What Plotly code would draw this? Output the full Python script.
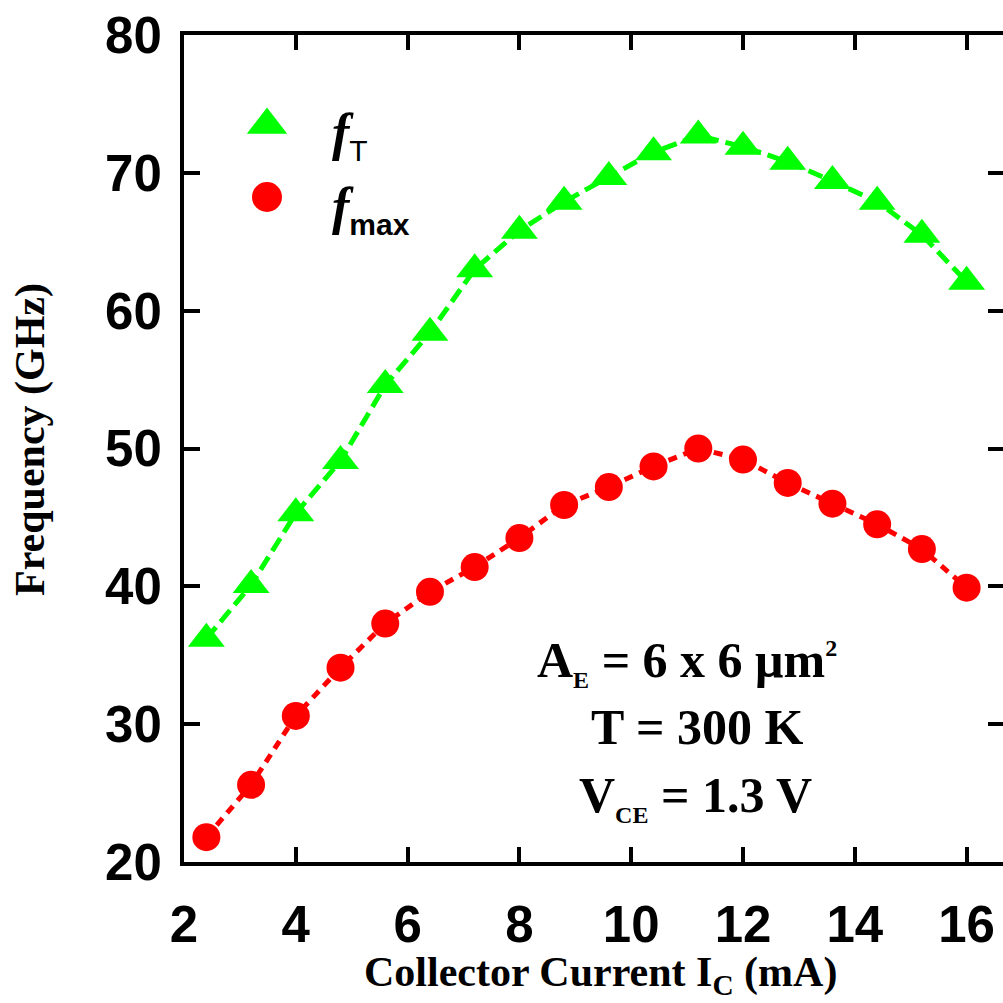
import plotly.graph_objects as go

# ---- data ----
current_mA = [2.4, 3.2, 4.0, 4.8, 5.6, 6.4, 7.2, 8.0, 8.8, 9.6, 10.4, 11.2,
              12.0, 12.8, 13.6, 14.4, 15.2, 16.0]
fT_GHz = [36.2, 40.1, 45.3, 49.1, 54.6, 58.4, 63.0, 65.8, 67.9, 69.7, 71.5, 72.7,
          71.9, 70.8, 69.4, 67.9, 65.5, 62.1]
fmax_GHz = [21.8, 25.6, 30.6, 34.1, 37.3, 39.6, 41.4, 43.5, 45.9, 47.2, 48.7, 50.0,
            49.2, 47.5, 46.0, 44.5, 42.7, 39.9]
x_ticks = [2, 4, 6, 8, 10, 12, 14, 16]
y_ticks = [20, 30, 40, 50, 60, 70, 80]
legend_labels = ["fT", "fmax"]

# ---- layout constants ----
W = H = 1003
L, R, T, B = 184, 0, 35, 141
PW, PH = W - L - R, H - T - B
GREEN = "#00FF00"
RED = "#FF0000"
SANS = "Liberation Sans"
SERIF = "Liberation Serif"

def px_x(px):
    return (px - L) / PW

def px_y(py):
    return (H - B - py) / PH

fig = go.Figure()

fig.add_trace(go.Scatter(
    x=current_mA, y=fT_GHz, mode="lines+markers", name=legend_labels[0],
    line=dict(color=GREEN, width=5, dash="15px,7px"),
    marker=dict(symbol="triangle-up", size=32, color=GREEN),
    showlegend=False, hoverinfo="skip"))
fig.add_trace(go.Scatter(
    x=current_mA, y=fmax_GHz, mode="lines+markers", name=legend_labels[1],
    line=dict(color=RED, width=5, dash="9px,7px"),
    marker=dict(symbol="circle", size=28, color=RED),
    showlegend=False, hoverinfo="skip"))

# dummy trace to carry the right-hand tick axis
fig.add_trace(go.Scatter(x=[None], y=[None], xaxis="x", yaxis="y2",
                         showlegend=False, hoverinfo="skip"))

# hand-built legend keys on an overlay (0..1) axis pair
fig.add_trace(go.Scatter(x=[px_x(267)], y=[px_y(125)], xaxis="x3", yaxis="y3",
                         mode="markers", showlegend=False, hoverinfo="skip",
                         marker=dict(symbol="triangle-up", size=35, color=GREEN)))
fig.add_trace(go.Scatter(x=[px_x(267)], y=[px_y(197)], xaxis="x3", yaxis="y3",
                         mode="markers", showlegend=False, hoverinfo="skip",
                         marker=dict(symbol="circle", size=30, color=RED)))

tickfont = dict(family=SANS, size=51, color="black", weight="bold")

fig.update_layout(
    width=W, height=H,
    margin=dict(l=L, r=R, t=T, b=B, pad=0),
    paper_bgcolor="white", plot_bgcolor="white",
    showlegend=False,
    xaxis=dict(range=[2, 2 + PW / 55.9], tickvals=x_ticks, ticktext=[str(v) for v in x_ticks],
               showgrid=False, zeroline=False, showline=True, linecolor="black", linewidth=4,
               mirror="ticks", ticks="inside", ticklen=15, tickwidth=4, tickcolor="black",
               tickfont=tickfont, ticklabelstandoff=15),
    yaxis=dict(range=[20, 80], tickvals=y_ticks, ticktext=[str(v) for v in y_ticks],
               showgrid=False, zeroline=False, showline=True, linecolor="black", linewidth=4,
               mirror=False, ticks="inside", ticklen=16, tickwidth=4, tickcolor="black",
               tickfont=tickfont, ticklabelstandoff=8),
    yaxis2=dict(range=[20, 80], tickvals=y_ticks, overlaying="y", side="right",
                anchor="free", position=1, showgrid=False, zeroline=False, showline=False,
                ticks="inside", ticklen=15, tickwidth=4, tickcolor="black",
                showticklabels=False),
    xaxis3=dict(range=[0, 1], overlaying="x", anchor="y3", visible=False),
    yaxis3=dict(range=[0, 1], overlaying="y", anchor="x3", visible=False),
)

title_font = dict(family=SERIF, size=42, color="black", weight="bold")

fig.add_annotation(text="<b>Collector Current I<sub>C</sub> (mA)</b>", xref="paper", yref="paper",
                   x=px_x(600), y=px_y(975), xanchor="center", yanchor="middle",
                   showarrow=False, font=title_font)
fig.add_annotation(text="<b>Frequency (GHz)</b>", xref="paper", yref="paper",
                   x=px_x(30), y=px_y(440), xanchor="center", yanchor="middle",
                   textangle=-90, showarrow=False, font=title_font)

# legend labels
leg_font = dict(family=SERIF, size=52, color="black")
fig.add_annotation(text="<b><i>f</i></b><sub><span style=\"font-family:'Liberation Sans';font-size:30px\">T</span></sub>",
                   xref="paper", yref="paper", x=px_x(330), y=px_y(135),
                   xanchor="left", yanchor="middle", showarrow=False, font=leg_font)
fig.add_annotation(text="<b><i>f</i></b><sub><span style=\"font-family:'Liberation Sans';font-weight:bold;font-size:30px\">max</span></sub>",
                   xref="paper", yref="paper", x=px_x(330), y=px_y(209),
                   xanchor="left", yanchor="middle", showarrow=False, font=leg_font)

# device conditions
cond_font = dict(family=SERIF, size=50, color="black", weight="bold")
fig.add_annotation(text="A<sub><span style=\"font-size:24px\">E</span></sub> = 6 x 6 \u03bcm<sup><span style=\"font-size:24px\">2</span></sup>",
                   xref="paper", yref="paper", x=px_x(687), y=px_y(662),
                   xanchor="center", yanchor="middle", showarrow=False, font=cond_font)
fig.add_annotation(text="T = 300 K",
                   xref="paper", yref="paper", x=px_x(697), y=px_y(727),
                   xanchor="center", yanchor="middle", showarrow=False, font=cond_font)
fig.add_annotation(text="V<sub><span style=\"font-size:24px\">CE</span></sub> = 1.3 V",
                   xref="paper", yref="paper", x=px_x(695), y=px_y(797),
                   xanchor="center", yanchor="middle", showarrow=False, font=cond_font)

fig.write_html("out.html")
